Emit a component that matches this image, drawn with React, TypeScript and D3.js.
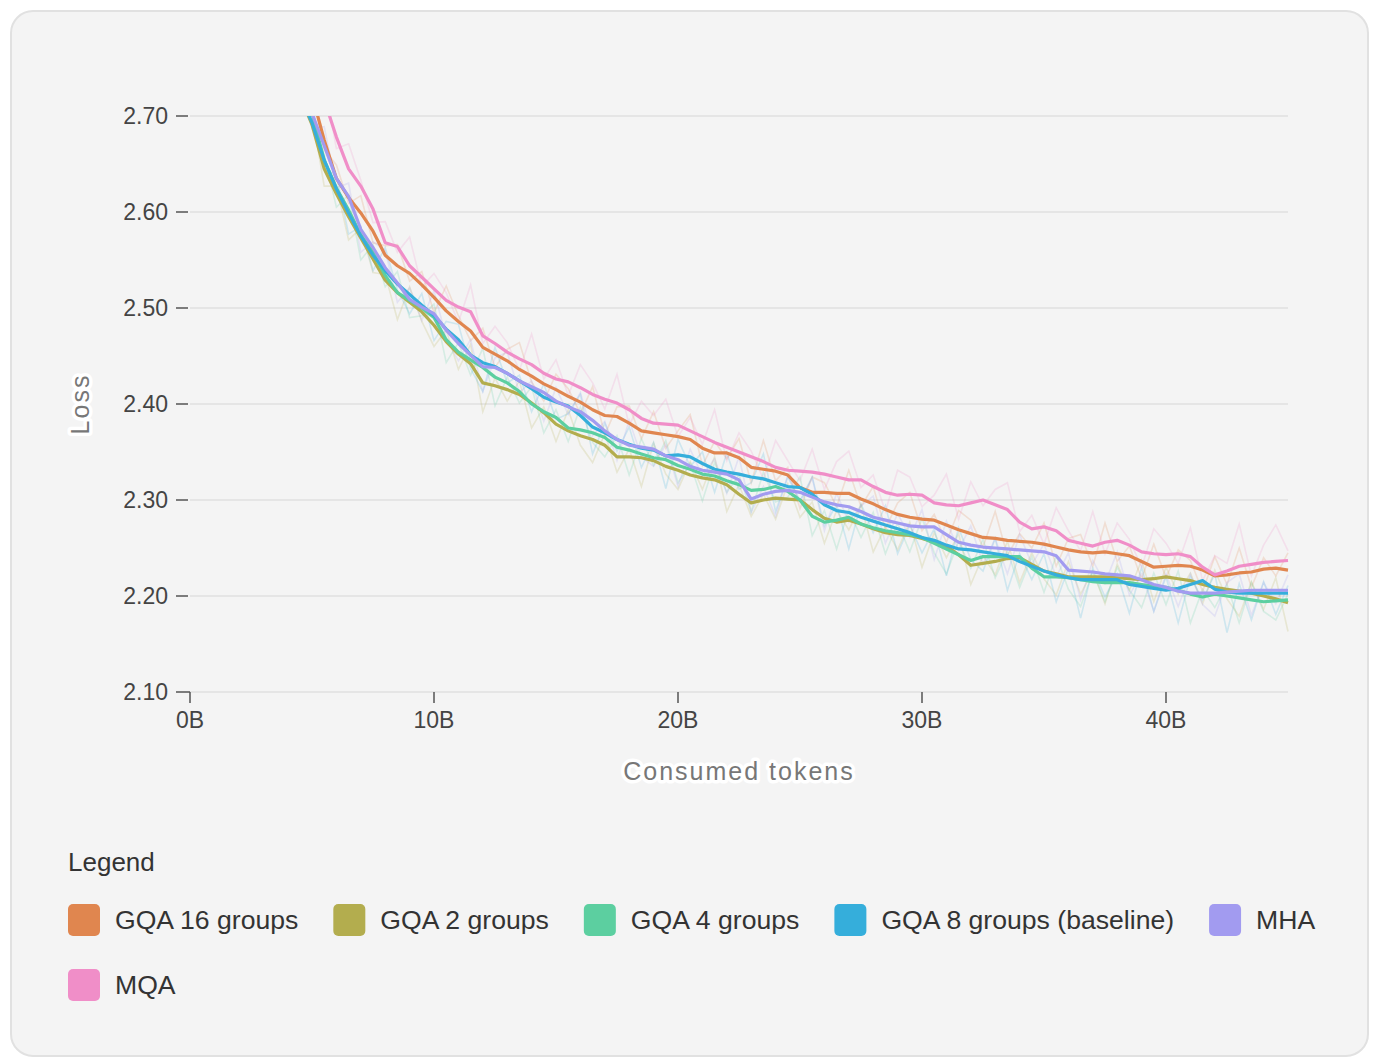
import React, { useEffect, useRef } from "react";
import * as d3 from "d3";

// Consumed tokens (billions) at each sample
const tokensB = [
  4.5, 5, 5.5, 6, 6.5, 7, 7.5, 8, 8.5, 9,
  9.5, 10, 10.5, 11, 11.5, 12, 12.5, 13, 13.5, 14,
  14.5, 15, 15.5, 16, 16.5, 17, 17.5, 18, 18.5, 19,
  19.5, 20, 20.5, 21, 21.5, 22, 22.5, 23, 23.5, 24,
  24.5, 25, 25.5, 26, 26.5, 27, 27.5, 28, 28.5, 29,
  29.5, 30, 30.5, 31, 31.5, 32, 32.5, 33, 33.5, 34,
  34.5, 35, 35.5, 36, 36.5, 37, 37.5, 38, 38.5, 39,
  39.5, 40, 40.5, 41, 41.5, 42, 42.5, 43, 43.5, 44,
  44.5, 45,
];

// Smoothed loss per series
const gqa16 = [
  2.743, 2.722, 2.675, 2.635, 2.615, 2.599, 2.580, 2.555, 2.544, 2.536,
  2.524, 2.511, 2.497, 2.486, 2.476, 2.459, 2.452, 2.445, 2.436, 2.429,
  2.421, 2.415, 2.408, 2.402, 2.394, 2.388, 2.387, 2.380, 2.372, 2.370,
  2.368, 2.366, 2.363, 2.354, 2.349, 2.349, 2.344, 2.334, 2.332, 2.330,
  2.326, 2.313, 2.308, 2.308, 2.307, 2.307, 2.301, 2.296, 2.290, 2.285,
  2.282, 2.280, 2.279, 2.274, 2.269, 2.265, 2.261, 2.260, 2.258, 2.257,
  2.256, 2.254, 2.251, 2.248, 2.246, 2.245, 2.246, 2.244, 2.242, 2.236,
  2.230, 2.231, 2.232, 2.231, 2.227, 2.221, 2.222, 2.224, 2.225, 2.228,
  2.229, 2.227,
];
const gqa2 = [
  2.722, 2.691, 2.645, 2.619, 2.595, 2.573, 2.551, 2.529, 2.516, 2.506,
  2.496, 2.482, 2.465, 2.452, 2.442, 2.422, 2.419, 2.415, 2.410, 2.401,
  2.391, 2.379, 2.372, 2.367, 2.363, 2.357, 2.345, 2.345, 2.344, 2.341,
  2.335, 2.331, 2.326, 2.323, 2.321, 2.316, 2.306, 2.297, 2.300, 2.302,
  2.301, 2.300, 2.290, 2.281, 2.277, 2.279, 2.275, 2.270, 2.266, 2.264,
  2.263, 2.260, 2.256, 2.252, 2.243, 2.232, 2.234, 2.236, 2.239, 2.240,
  2.233, 2.226, 2.223, 2.220, 2.220, 2.220, 2.220, 2.219, 2.218, 2.217,
  2.218, 2.220, 2.218, 2.216, 2.212, 2.209, 2.207, 2.205, 2.203, 2.200,
  2.197, 2.193,
];
const gqa4 = [
  2.727, 2.703, 2.654, 2.625, 2.602, 2.576, 2.558, 2.534, 2.516, 2.508,
  2.500, 2.490, 2.467, 2.454, 2.446, 2.438, 2.428, 2.422, 2.413, 2.400,
  2.392, 2.386, 2.375, 2.373, 2.370, 2.365, 2.355, 2.352, 2.348, 2.344,
  2.342, 2.336, 2.332, 2.327, 2.325, 2.320, 2.316, 2.310, 2.311, 2.314,
  2.309, 2.300, 2.283, 2.277, 2.279, 2.282, 2.275, 2.271, 2.268, 2.266,
  2.264, 2.261, 2.255, 2.249, 2.243, 2.237, 2.241, 2.241, 2.241, 2.241,
  2.229, 2.220, 2.220, 2.219, 2.217, 2.215, 2.214, 2.214, 2.214, 2.212,
  2.210, 2.209, 2.206, 2.202, 2.199, 2.202, 2.200, 2.198, 2.196, 2.194,
  2.195, 2.196,
];
const gqa8 = [
  2.722, 2.693, 2.654, 2.624, 2.599, 2.575, 2.555, 2.539, 2.525, 2.514,
  2.503, 2.492, 2.478, 2.467, 2.451, 2.443, 2.439, 2.432, 2.424, 2.416,
  2.407, 2.402, 2.398, 2.388, 2.376, 2.370, 2.363, 2.358, 2.354, 2.352,
  2.346, 2.347, 2.345, 2.338, 2.332, 2.329, 2.327, 2.324, 2.322, 2.318,
  2.314, 2.313, 2.306, 2.295, 2.289, 2.287, 2.282, 2.278, 2.274, 2.270,
  2.266, 2.261, 2.258, 2.253, 2.249, 2.248, 2.246, 2.244, 2.242, 2.236,
  2.231, 2.226, 2.222, 2.219, 2.217, 2.217, 2.217, 2.217, 2.212, 2.210,
  2.208, 2.206, 2.208, 2.212, 2.216, 2.207, 2.204, 2.203, 2.203, 2.203,
  2.203, 2.203,
];
const mha = [
  2.732, 2.703, 2.669, 2.635, 2.616, 2.582, 2.563, 2.542, 2.526, 2.509,
  2.501, 2.494, 2.477, 2.463, 2.451, 2.439, 2.438, 2.432, 2.424, 2.418,
  2.412, 2.403, 2.397, 2.392, 2.383, 2.372, 2.363, 2.357, 2.355, 2.353,
  2.346, 2.342, 2.335, 2.331, 2.329, 2.327, 2.321, 2.301, 2.306, 2.309,
  2.310, 2.308, 2.303, 2.298, 2.295, 2.293, 2.288, 2.282, 2.279, 2.276,
  2.273, 2.272, 2.272, 2.264, 2.256, 2.253, 2.251, 2.250, 2.249, 2.248,
  2.247, 2.246, 2.242, 2.227, 2.226, 2.225, 2.223, 2.222, 2.221, 2.217,
  2.212, 2.209, 2.205, 2.203, 2.203, 2.203, 2.204, 2.205, 2.206, 2.206,
  2.206, 2.206,
];
const mqa = [
  2.758, 2.738, 2.717, 2.678, 2.645, 2.627, 2.603, 2.568, 2.564, 2.544,
  2.532, 2.520, 2.508, 2.501, 2.496, 2.471, 2.463, 2.454, 2.447, 2.441,
  2.432, 2.426, 2.423, 2.417, 2.410, 2.405, 2.401, 2.394, 2.385, 2.380,
  2.379, 2.378, 2.372, 2.366, 2.360, 2.355, 2.350, 2.345, 2.340, 2.334,
  2.331, 2.330, 2.329, 2.327, 2.324, 2.321, 2.321, 2.314, 2.308, 2.305,
  2.306, 2.305, 2.297, 2.295, 2.294, 2.297, 2.300, 2.295, 2.290, 2.277,
  2.270, 2.272, 2.268, 2.258, 2.255, 2.252, 2.256, 2.258, 2.253, 2.246,
  2.244, 2.243, 2.244, 2.241, 2.230, 2.222, 2.226, 2.231, 2.233, 2.235,
  2.236, 2.237,
];

// Raw (unsmoothed) deviation from the smoothed curve, in thousandths of loss
const gqa16Raw = [
  0, 8, -10, 14, -6, 18, -12, 10, 22, -8,
  14, -16, 26, 6, -10, 20, -14, 12, 28, -6,
  -18, 16, 8, -12, 24, -20, 10, 18, -8, 22,
  -14, 6, 26, -18, 12, -6, 20, -16, 30, -10,
  8, -22, 16, 10, -14, 24, -8, 18, -20, 12,
  26, -12, 6, -18, 20, 14, -10, 28, -16, 8,
  -6, 22, -20, 12, 18, -14, 30, -8, 10, -18,
  24, -12, 16, 6, -22, 20, -10, 26, -16, 12,
  -8, 18,
];
const gqa2Raw = [
  -6, 12, -18, 8, -24, 10, -14, 6, -28, 16,
  -10, -22, 12, -16, 20, -30, 8, -12, 14, -26,
  6, -18, 22, -10, -24, 12, -16, 8, -30, 18,
  -8, -20, 14, -12, 24, -28, 10, -14, 6, -22,
  16, -18, 8, -26, 12, -10, 20, -24, 6, -16,
  14, -30, 10, -12, 22, -20, 8, -14, 18, -26,
  12, -8, -22, 16, -18, 6, -28, 14, -12, 20,
  -24, 10, -16, 8, -20, 18, -10, -26, 12, -14,
  22, -30,
];
const gqa4Raw = [
  10, -14, 6, -20, 16, -26, 8, -12, 22, -18,
  -8, 14, -24, 10, -16, 20, -30, 6, -12, 18,
  -22, 8, -14, 24, -10, -20, 12, -26, 16, -8,
  20, -18, 6, -28, 14, -12, 10, -22, 18, -16,
  -6, 24, -20, 12, -30, 8, -14, 16, -24, 10,
  -18, 20, -10, -26, 14, -8, 18, -22, 6, -32,
  12, -16, 22, -12, -28, 10, -20, 16, -8, -24,
  14, -18, 20, -30, 8, -14, 12, -26, 18, -10,
  -20, 6,
];
const gqa8Raw = [
  -12, 18, -8, 14, -22, 10, -16, 24, -6, -20,
  12, -26, 8, 16, -14, -30, 20, -10, 6, -24,
  14, -18, -8, 22, -28, 10, -12, 18, -20, 8,
  -34, 16, -10, 12, -24, 20, -16, -6, 26, -30,
  10, -14, 18, -22, 6, -38, 14, -12, 20, -26,
  8, -16, 12, -32, 22, -10, -20, 16, -36, 8,
  -14, 18, -28, 10, -40, 12, -18, 6, -30, 20,
  -24, 14, -36, 8, -20, 16, -42, 10, -28, 12,
  -22, 8,
];
const mhaRaw = [
  8, -16, 20, -10, 14, -24, 6, 18, -20, 12,
  -14, 24, -8, -18, 16, -26, 10, 22, -12, 6,
  -30, 14, -8, 20, -16, 10, -22, 26, -10, -18,
  12, -28, 18, -6, 14, -20, 24, -14, 8, -26,
  16, -10, 20, -30, 12, -16, 6, 22, -24, 10,
  -12, 18, -34, 14, -8, 20, -18, 10, -26, 16,
  -14, 8, -22, 18, -30, 12, -10, 24, -20, 6,
  -28, 14, -16, 20, -12, -24, 10, 18, -26, 8,
  -14, 16,
];
const mqaRaw = [
  14, -8, 20, -12, 26, 6, -14, 22, -6, 30,
  -10, 16, 8, -16, 28, -8, 18, 10, -12, 32,
  -6, 20, -14, 24, 12, -10, 30, -16, 18, 8,
  26, -12, 14, -8, 34, -14, 20, 6, -18, 28,
  10, -10, 24, -16, 16, 30, -8, 12, -20, 26,
  18, -12, 8, 32, -14, 22, -6, 16, 28, -10,
  14, -18, 24, 10, -8, 36, -12, 18, 6, -16,
  26, 12, -10, 30, -14, 20, 8, 44, -12, 18,
  38, 10,
];

const seriesNames = [
  "GQA 16 groups",
  "GQA 2 groups",
  "GQA 4 groups",
  "GQA 8 groups (baseline)",
  "MHA",
  "MQA",
];
const seriesColors = ["#e0864f", "#b3ad4e", "#5ccfa0", "#35aedb", "#a29bf0", "#f08ec8"];
const seriesSmooth = [gqa16, gqa2, gqa4, gqa8, mha, mqa];
const seriesRaw = [gqa16Raw, gqa2Raw, gqa4Raw, gqa8Raw, mhaRaw, mqaRaw];

const yTicks = [2.1, 2.2, 2.3, 2.4, 2.5, 2.6, 2.7];
const yTickLabels = ["2.10", "2.20", "2.30", "2.40", "2.50", "2.60", "2.70"];
const xTicks = [0, 10, 20, 30, 40];
const xTickLabels = ["0B", "10B", "20B", "30B", "40B"];

const FONT = "'Liberation Sans', Arial, Helvetica, sans-serif";

export default function App() {
  const ref = useRef<SVGSVGElement>(null);

  useEffect(() => {
    const svg = d3.select(ref.current);
    svg.selectAll("*").remove();

    svg
      .append("rect")
      .attr("x", 11)
      .attr("y", 11)
      .attr("width", 1357)
      .attr("height", 1045)
      .attr("rx", 22)
      .attr("fill", "#f4f4f4")
      .attr("stroke", "#e1e1e1")
      .attr("stroke-width", 2);

    const x = d3.scaleLinear().domain([0, 45]).range([190, 1288]);
    const y = d3.scaleLinear().domain([2.1, 2.7]).range([692, 116]);

    // gridlines
    svg
      .append("g")
      .selectAll("line")
      .data(yTicks)
      .join("line")
      .attr("x1", x(0))
      .attr("x2", x(45))
      .attr("y1", (d) => y(d))
      .attr("y2", (d) => y(d))
      .attr("stroke", "#e5e5e5")
      .attr("stroke-width", 2);

    // y axis ticks and labels
    const yg = svg.append("g");
    yg.selectAll("line")
      .data(yTicks)
      .join("line")
      .attr("x1", 176)
      .attr("x2", (d) => (d === 2.1 ? x(0) : 188))
      .attr("y1", (d) => y(d))
      .attr("y2", (d) => y(d))
      .attr("stroke", "#555")
      .attr("stroke-width", 1.5);
    yg.selectAll("text")
      .data(yTicks)
      .join("text")
      .attr("x", 168)
      .attr("y", (d) => y(d))
      .attr("dy", "0.35em")
      .attr("text-anchor", "end")
      .attr("font-family", FONT)
      .attr("font-size", 23)
      .attr("fill", "#444")
      .text((d, i) => yTickLabels[i]);

    // x axis ticks and labels
    const xg = svg.append("g");
    xg.selectAll("line")
      .data(xTicks)
      .join("line")
      .attr("x1", (d) => x(d))
      .attr("x2", (d) => x(d))
      .attr("y1", y(2.1))
      .attr("y2", y(2.1) + 11)
      .attr("stroke", "#555")
      .attr("stroke-width", 1.5);
    xg.selectAll("text")
      .data(xTicks)
      .join("text")
      .attr("x", (d) => x(d))
      .attr("y", 728)
      .attr("text-anchor", "middle")
      .attr("font-family", FONT)
      .attr("font-size", 23)
      .attr("fill", "#444")
      .text((d, i) => xTickLabels[i]);

    // axis titles with halo
    const title = (t: string, tx: number, ty: number, rot: number) =>
      svg
        .append("text")
        .attr("transform", `translate(${tx},${ty}) rotate(${rot})`)
        .attr("text-anchor", "middle")
        .attr("dy", "0.35em")
        .attr("font-family", FONT)
        .attr("font-size", 25)
        .attr("letter-spacing", 2)
        .attr("fill", "#777")
        .attr("stroke", "#ffffff")
        .attr("stroke-width", 7)
        .attr("stroke-linejoin", "round")
        .attr("paint-order", "stroke")
        .text(t);
    title("Consumed tokens", 739, 771, 0);
    title("Loss", 80, 404, -90);

    // clip
    svg
      .append("defs")
      .append("clipPath")
      .attr("id", "plot-clip")
      .append("rect")
      .attr("x", 188)
      .attr("y", 116)
      .attr("width", 1102)
      .attr("height", 580);

    const plot = svg.append("g").attr("clip-path", "url(#plot-clip)");
    const line = d3
      .line<[number, number]>()
      .x((d) => x(d[0]))
      .y((d) => y(d[1]));

    // raw noisy lines
    seriesSmooth.forEach((vals, si) => {
      const raw = seriesRaw[si];
      const pts: [number, number][] = tokensB
        .map((t, i) => [t, vals[i] + (raw[i] ?? 0) / 1000] as [number, number])
        .filter((p) => p[1] !== undefined && !isNaN(p[1]));
      plot
        .append("path")
        .attr("d", line(pts))
        .attr("fill", "none")
        .attr("stroke", seriesColors[si])
        .attr("stroke-opacity", 0.2)
        .attr("stroke-width", 1.6);
    });

    // smoothed lines
    seriesSmooth.forEach((vals, si) => {
      const pts: [number, number][] = tokensB
        .map((t, i) => [t, vals[i]] as [number, number])
        .filter((p) => p[1] !== undefined && !isNaN(p[1]));
      plot
        .append("path")
        .attr("d", line(pts))
        .attr("fill", "none")
        .attr("stroke", seriesColors[si])
        .attr("stroke-width", 3.2)
        .attr("stroke-linejoin", "round");
    });

    // legend
    svg
      .append("text")
      .attr("x", 68)
      .attr("y", 871)
      .attr("font-family", FONT)
      .attr("font-size", 26)
      .attr("fill", "#333")
      .text("Legend");

    const lg = svg.append("g");
    let cx = 68;
    let cy = 920;
    seriesNames.forEach((name, i) => {
      const item = lg.append("g");
      const txt = item
        .append("text")
        .attr("font-family", FONT)
        .attr("font-size", 26.6)
        .attr("fill", "#333")
        .attr("dy", "0.35em")
        .text(name);
      const w = (txt.node() as SVGTextElement).getComputedTextLength();
      if (cx + 47 + w > 1345) {
        cx = 68;
        cy += 65;
      }
      item
        .append("rect")
        .attr("x", cx)
        .attr("y", cy - 16)
        .attr("width", 32)
        .attr("height", 32)
        .attr("rx", 5)
        .attr("fill", seriesColors[i]);
      txt.attr("x", cx + 47).attr("y", cy);
      cx += 47 + w + 35;
    });
  }, []);

  return (
    <svg
      ref={ref}
      width={1377}
      height={1058}
      style={{ position: "absolute", left: 0, top: 0, display: "block" }}
    />
  );
}
